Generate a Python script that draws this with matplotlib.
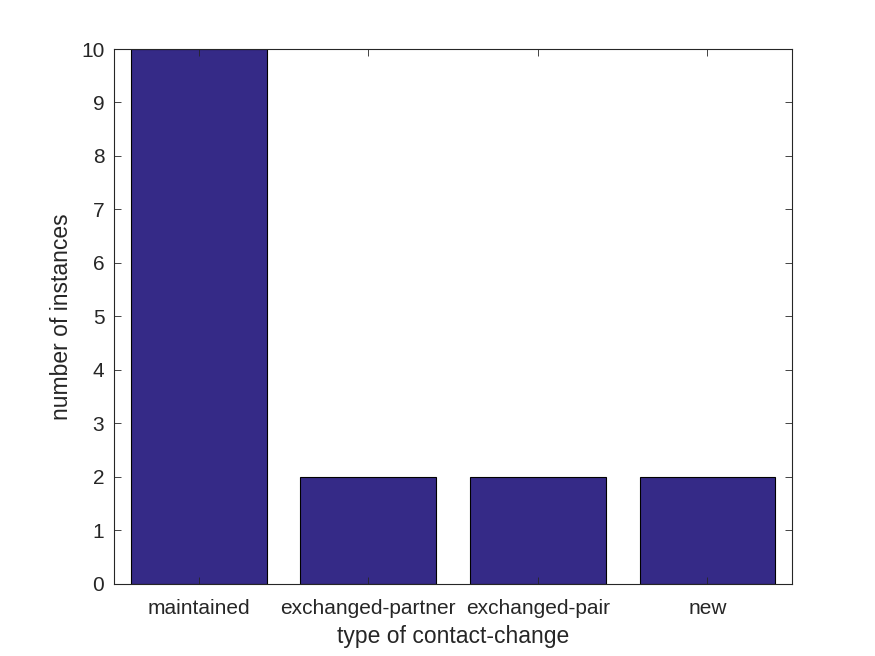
import matplotlib.pyplot as plt

categories = ['maintained', 'exchanged-partner', 'exchanged-pair', 'new']
instances = [10, 2, 2, 2]

plt.rcParams['font.family'] = ['Liberation Sans', 'DejaVu Sans']
dark = '#262626'

fig = plt.figure(figsize=(8.75, 6.56), dpi=100)
ax = fig.add_axes([0.1303, 0.1098, 0.775, 0.8155])

x = list(range(1, len(categories) + 1))
ax.bar(x, instances, width=0.8, color='#352a87', edgecolor='black', linewidth=0.8)

ax.set_xlim(0.5, 4.5)
ax.set_ylim(0, 10)
ax.set_xticks(x)
ax.set_xticklabels(categories)
ax.set_yticks(range(0, 11))

ax.tick_params(direction='in', top=True, right=True, length=5, width=0.6,
               colors=dark, labelsize=15)
ax.tick_params(axis='x', pad=11)
ax.tick_params(axis='y', pad=7)
for s in ax.spines.values():
    s.set_color(dark)
    s.set_linewidth(0.8)

ax.set_xlabel('type of contact-change', fontsize=16.5, color=dark, labelpad=5)
ax.set_ylabel('number of instances', fontsize=16.5, color=dark, labelpad=6)

fig.savefig('out.png', dpi=100)
